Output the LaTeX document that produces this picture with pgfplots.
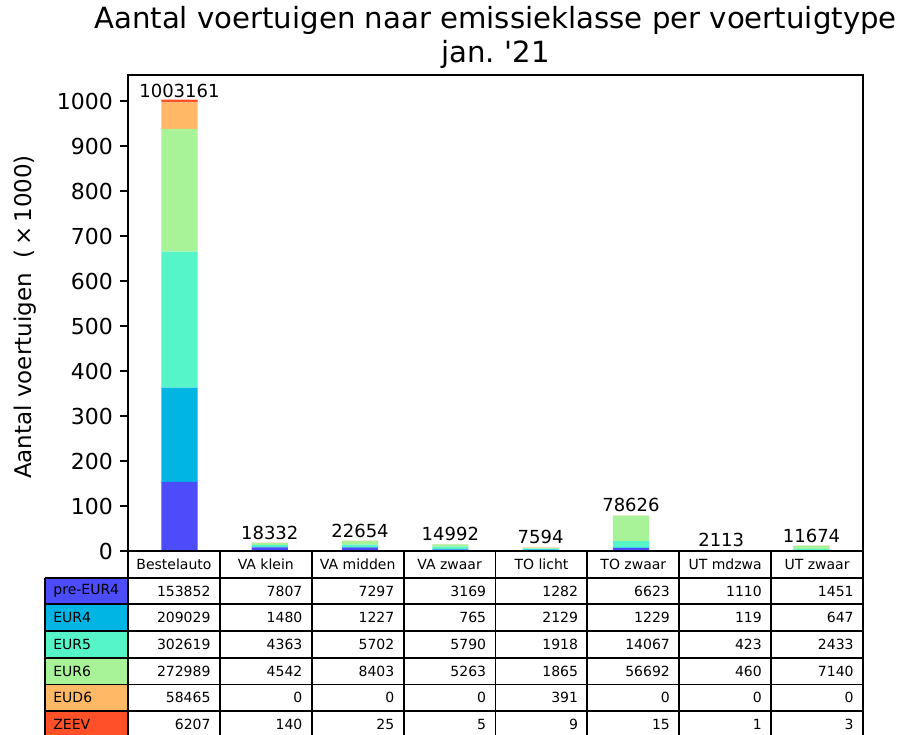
\documentclass[border=0pt]{standalone}
\usepackage{pgfplots}
\pgfplotsset{compat=1.18}
\usepackage{pgfplotstable}
\usepackage{fontspec}
\setmainfont{DejaVu Sans}

\definecolor{cPre}{RGB}{76,76,250}
\definecolor{cEfour}{RGB}{0,180,228}
\definecolor{cEfive}{RGB}{85,245,200}
\definecolor{cEsix}{RGB}{168,243,152}
\definecolor{cDsix}{RGB}{255,184,102}
\definecolor{cZeev}{RGB}{255,80,40}

\pgfplotstableread{
x   pre    efour  efive  esix   dsix  zeev total
0.3 153852 209029 302619 272989 58465 6207 1003161
1.3 7807   1480   4363   4542   0     140  18332
2.3 7297   1227   5702   8403   0     25   22654
3.3 3169   765    5790   5263   0     5    14992
4.3 1282   2129   1918   1865   391   9    7594
5.3 6623   1229   14067  56692  0     15   78626
6.3 1110   119    423    460    0     1    2113
7.3 1451   647    2433   7140   0     3    11674
}\datatable

\begin{document}
\begin{tikzpicture}[x=0.5pt,y=0.5pt]
\useasboundingbox (0,0) rectangle (902,735);
\begin{axis}[
  at={(64pt,92pt)}, anchor=south west,
  scale only axis, width=367.5pt, height=238pt,
  xmin=-0.27, xmax=7.87, ymin=0, ymax=1058,
  ybar stacked, bar width=0.4,
  xtick=\empty,
  ytick={0,100,...,1000},
  ytick pos=left, tick align=outside, major tick length=4pt,
  yticklabel style={font=\fontsize{11}{13}\selectfont, text=black},
  /pgf/number format/assume math mode=true,
  /pgf/number format/1000 sep={},
  axis line style={line width=0.9pt, black},
  every tick/.style={black, line width=0.9pt},
  clip=false,
]
\addplot[fill=cPre, draw=none] table[x=x, y expr=\thisrow{pre}/1000]{\datatable};
\addplot[fill=cEfour, draw=none] table[x=x, y expr=\thisrow{efour}/1000]{\datatable};
\addplot[fill=cEfive, draw=none] table[x=x, y expr=\thisrow{efive}/1000]{\datatable};
\addplot[fill=cEsix, draw=none] table[x=x, y expr=\thisrow{esix}/1000]{\datatable};
\addplot[fill=cDsix, draw=none] table[x=x, y expr=\thisrow{dsix}/1000]{\datatable};
\addplot[fill=cZeev, draw=none, nodes near coords, point meta=explicit symbolic,
  nodes near coords style={font=\fontsize{9}{11}\selectfont, text=black, anchor=south, inner sep=1.5pt}]
  table[x=x, y expr=\thisrow{zeev}/1000, meta=total]{\datatable};
\end{axis}

% title
\node[anchor=base, font=\fontsize{14.6}{17}\selectfont] at (495.5,706) {Aantal voertuigen naar emissieklasse per voertuigtype};
\node[anchor=base, font=\fontsize{14.6}{17}\selectfont] at (495.5,672) {jan.\ \textquotesingle21};
% y label
\node[rotate=90, anchor=base, font=\fontsize{11.5}{13}\selectfont] at (32,418) {Aantal voertuigen\ \ (\,×\,1000)};

% table
\def\rh{26.7}
\def\cw{91.875}
\foreach \lab/\colr [count=\r from 0] in {pre-EUR4/cPre, EUR4/cEfour, EUR5/cEfive, EUR6/cEsix, EUD6/cDsix, ZEEV/cZeev} {
  \fill[\colr] (45,{184-\rh*(\r+1)}) rectangle (128,{184-\rh*(\r+2)});
  \node[anchor=west, font=\fontsize{7}{8}\selectfont, inner sep=0pt] at (53,{184-\rh*(\r+1.5)}) {\lab};
}
\draw[line width=0.9pt] (128,184) -- (863,184);
\foreach \k in {1,...,7} {
  \draw[line width=0.9pt] (45,{184-\rh*(\k)}) -- (863,{184-\rh*(\k)});
}
\foreach \k in {0,...,8} {
  \draw[line width=0.9pt] ({128+\cw*\k},184) -- ({128+\cw*\k},{184-\rh*7});
}
\draw[line width=0.9pt] (45,{184-\rh}) -- (45,{184-\rh*7});
\foreach \name [count=\i from 0] in {Bestelauto, VA klein, VA midden, VA zwaar, TO licht, TO zwaar, UT mdzwa, UT zwaar} {
  \node[font=\fontsize{7}{8}\selectfont, inner sep=0pt] at ({128+\cw*(\i+0.5)},{184-\rh*0.5}) {\name};
}
\foreach \colname [count=\r from 0] in {pre,efour,efive,esix,dsix,zeev} {
  \foreach \i in {0,...,7} {
    \pgfplotstablegetelem{\i}{\colname}\of\datatable
    \node[anchor=east, font=\fontsize{7}{8}\selectfont, inner sep=0pt] at ({128+\cw*(\i+1)-9},{184-\rh*(\r+1.5)}) {\pgfplotsretval};
  }
}
\end{tikzpicture}
\end{document}
